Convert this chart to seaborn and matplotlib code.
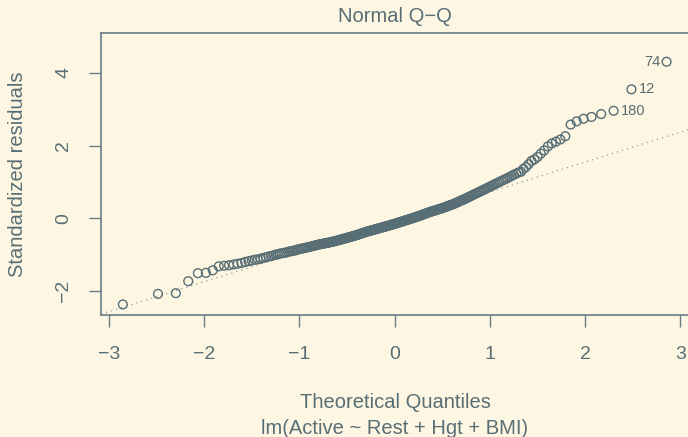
import numpy as np
import pandas as pd
import seaborn as sns
import matplotlib
matplotlib.use("Agg")
import matplotlib.pyplot as plt
from statistics import NormalDist

# Sorted standardized residuals of lm(Active ~ Rest + Hgt + BMI)
std_resid = [
    -2.37, -2.08, -2.06, -1.73, -1.51, -1.50, -1.43, -1.32, -1.305, -1.29,
    -1.27, -1.25, -1.23, -1.20, -1.18, -1.16, -1.14, -1.13, -1.11, -1.09,
    -1.07, -1.05, -1.04, -1.02, -1.00, -0.99, -0.97, -0.96, -0.95, -0.94,
    -0.92, -0.91, -0.90, -0.89, -0.88, -0.86, -0.85, -0.84, -0.83, -0.82,
    -0.81, -0.80, -0.79, -0.78, -0.77, -0.76, -0.75, -0.74, -0.73, -0.72,
    -0.71, -0.705, -0.70, -0.69, -0.68, -0.675, -0.67, -0.66, -0.65, -0.645,
    -0.636, -0.627, -0.618, -0.609, -0.60, -0.591, -0.582, -0.573, -0.564, -0.555,
    -0.546, -0.537, -0.528, -0.519, -0.51, -0.501, -0.492, -0.483, -0.474, -0.465,
    -0.455, -0.445, -0.435, -0.425, -0.415, -0.405, -0.395, -0.385, -0.375, -0.365,
    -0.357, -0.349, -0.341, -0.333, -0.325, -0.317, -0.309, -0.301, -0.293, -0.285,
    -0.277, -0.269, -0.261, -0.253, -0.245, -0.237, -0.229, -0.221, -0.213, -0.205,
    -0.197, -0.188, -0.18, -0.171, -0.163, -0.154, -0.146, -0.137, -0.129, -0.12,
    -0.111, -0.102, -0.093, -0.084, -0.075, -0.066, -0.057, -0.048, -0.039, -0.03,
    -0.02, -0.011, -0.002, 0.008, 0.017, 0.027, 0.036, 0.046, 0.055, 0.065,
    0.076, 0.087, 0.098, 0.109, 0.12, 0.131, 0.142, 0.153, 0.164, 0.175,
    0.184, 0.194, 0.204, 0.213, 0.222, 0.232, 0.242, 0.251, 0.26, 0.27,
    0.282, 0.294, 0.306, 0.318, 0.33, 0.342, 0.354, 0.366, 0.378, 0.39,
    0.406, 0.422, 0.438, 0.454, 0.47, 0.486, 0.502, 0.518, 0.534, 0.55,
    0.57, 0.59, 0.608, 0.628, 0.648, 0.667, 0.686, 0.706, 0.726, 0.745,
    0.767, 0.789, 0.811, 0.833, 0.855, 0.879, 0.903, 0.927, 0.951, 0.975,
    1.001, 1.027, 1.053, 1.079, 1.105, 1.136, 1.167, 1.198, 1.229, 1.26,
    1.28, 1.36, 1.41, 1.49, 1.58, 1.62, 1.69, 1.78, 1.87, 1.98,
    2.06, 2.11, 2.17, 2.26, 2.58, 2.67, 2.74, 2.79, 2.87, 2.96,
    3.55, 4.31,
]
# observation ids of the three largest residuals (in increasing order)
outlier_ids = ["180", "12", "74"]

x_ticks = [-3, -2, -1, 0, 1, 2, 3]
y_ticks = [-2, 0, 2, 4]
title = "Normal Q\u2212Q"
x_label = "Theoretical Quantiles"
y_label = "Standardized residuals"
sub_label = "lm(Active ~ Rest + Hgt + BMI)"

# theoretical quantiles (R ppoints, a = 1/2 for n > 10)
n = len(std_resid)
nd = NormalDist()
theo = [nd.inv_cdf((i + 0.5) / n) for i in range(n)]
df = pd.DataFrame({"theoretical": theo, "residual": sorted(std_resid)})

# qqline through the quartiles
q1, q3 = np.quantile(df["residual"], [0.25, 0.75])
z = nd.inv_cdf(0.75)
slope = (q3 - q1) / (2 * z)
intercept = q1 + slope * z

BG = "#fdf6e3"
FG = "#586e75"
AX = "#687d84"

sns.set_theme(style="white", rc={
    "axes.facecolor": BG,
    "figure.facecolor": BG,
    "axes.edgecolor": AX,
    "text.color": FG,
    "axes.labelcolor": FG,
    "xtick.color": AX,
    "ytick.color": AX,
})
plt.rcParams["font.family"] = ["Liberation Sans", "DejaVu Sans"]

W, H = 688, 437
fig = plt.figure(figsize=(W / 100, H / 100), dpi=100)
L, R, T, B = 101, 689, 33, 315
ax = fig.add_axes([L / W, 1 - B / H, (R - L) / W, (B - T) / H])

ax.axline((0, intercept), slope=slope, color="#959f9f", lw=0.9,
          ls=(0, (1, 3.2)), zorder=1)
sns.scatterplot(data=df, x="theoretical", y="residual", ax=ax, marker="o",
                s=40, facecolor="none", edgecolor=FG, linewidth=1.0,
                zorder=2, legend=False)

top = df.tail(len(outlier_ids)).reset_index(drop=True)
for k, lab in enumerate(outlier_ids):
    xx, yy = top.loc[k, "theoretical"], top.loc[k, "residual"]
    if k == len(outlier_ids) - 1:
        ax.annotate(lab, (xx, yy), xytext=(-4.3, 0), textcoords="offset points",
                    ha="right", va="center", fontsize=10.5, color=FG)
    else:
        ax.annotate(lab, (xx, yy), xytext=(5.3, 0), textcoords="offset points",
                    ha="left", va="center", fontsize=10.5, color=FG)

ax.set_xlim(-3.084, 3.09)
ax.set_ylim(-2.66, 5.10)
ax.set_xticks(x_ticks)
ax.set_yticks(y_ticks)
ax.tick_params(axis="both", direction="out", length=8.8, width=1.0,
               labelsize=14, labelcolor=FG)
ax.tick_params(axis="x", pad=13.5)
ax.tick_params(axis="y", pad=12.0, labelrotation=90)
for lab in ax.get_yticklabels():
    lab.set_va("center")
ax.tick_params(left=True, bottom=True)

for side in ["left", "bottom", "top", "right"]:
    ax.spines[side].set_visible(True)
    ax.spines[side].set_linewidth(1.2)
    ax.spines[side].set_color(AX)

ax.set_title(title, fontsize=14.5, color=FG, pad=8.0)
ax.set_xlabel(x_label, fontsize=14.5, color=FG)
ax.xaxis.set_label_coords(0.5, (B - 408.5) / (B - T))
ax.xaxis.label.set_va("baseline")
ax.set_ylabel(y_label, fontsize=14.5, color=FG)
ax.yaxis.set_label_coords((17.7 - L) / (R - L), 0.5)
ax.yaxis.label.set_va("center")
ax.yaxis.label.set_ha("center")
fig.text(((L + R) / 2) / W, 1 - 433.5 / H, sub_label, ha="center",
         va="baseline", fontsize=14.5, color=FG)

fig.savefig("out.png", dpi=100, facecolor=BG)
